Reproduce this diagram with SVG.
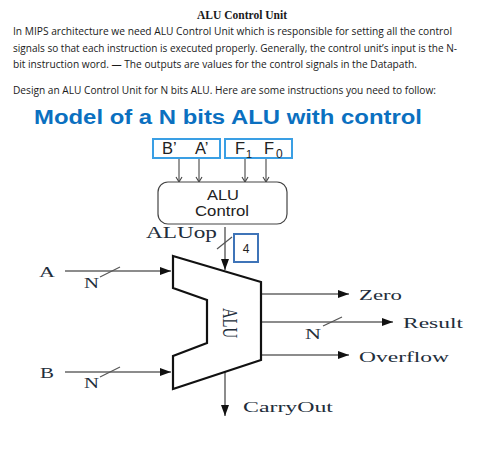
<svg xmlns="http://www.w3.org/2000/svg" width="500" height="473" viewBox="0 0 500 473">
<style>
.body{font-family:"Open Sans","Liberation Sans",sans-serif;font-size:11px;fill:#1a1a1a}
.ser{font-family:"Liberation Serif",serif;fill:#222d3a}
.san{font-family:"Liberation Sans",sans-serif;fill:#222}
.wire{stroke:#666;stroke-width:1.5;fill:none}
.sm{stroke:#555;stroke-width:1.2;fill:none}
.blk{stroke:#111;stroke-width:2.2;fill:#fff;stroke-linejoin:miter}
.sel{fill:#fff;stroke:#3a9fe4;stroke-width:2}
</style>
<defs>
<marker id="big" markerUnits="userSpaceOnUse" markerWidth="11" markerHeight="8" refX="11" refY="4" orient="auto"><path d="M0 0L11 4L0 8Z" fill="#111"/></marker>
<marker id="open" markerUnits="userSpaceOnUse" markerWidth="8" markerHeight="8" refX="6.5" refY="4" orient="auto"><path d="M1.5 1L6.5 4L1.5 7" fill="none" stroke="#444" stroke-width="1.1"/></marker>
</defs>
<rect width="500" height="473" fill="#fff"/>
<text x="197" y="19" textLength="90" lengthAdjust="spacingAndGlyphs" style="font-family:'Liberation Serif',serif;font-weight:bold;font-size:11.5px;fill:#1a1a1a">ALU Control Unit</text>
<text class="body" x="13" y="35" textLength="439" lengthAdjust="spacingAndGlyphs">In MIPS architecture we need ALU Control Unit which is responsible for setting all the control</text>
<text class="body" x="13" y="52" textLength="444" lengthAdjust="spacingAndGlyphs">signals so that each instruction is executed properly. Generally, the control unit’s input is the N-</text>
<text class="body" x="13" y="68" textLength="404" lengthAdjust="spacingAndGlyphs">bit instruction word. — The outputs are values for the control signals in the Datapath.</text>
<text class="body" x="13" y="94" textLength="423" lengthAdjust="spacingAndGlyphs">Design an ALU Control Unit for N bits ALU. Here are some instructions you need to follow:</text>
<text x="34" y="124" textLength="388" lengthAdjust="spacingAndGlyphs" style="font-family:'Liberation Sans',sans-serif;font-weight:bold;font-size:20px;fill:#0b70c0">Model of a N bits ALU with control</text>

<g id="connectors">
<path class="sm" marker-end="url(#open)" d="M179 158V182"/>
<path class="sm" marker-end="url(#open)" d="M199 158V182"/>
<path class="sm" marker-end="url(#open)" d="M245 158V182"/>
<path class="sm" marker-end="url(#open)" d="M266 158V182"/>
<path class="wire" marker-end="url(#big)" d="M225 227V270"/>
<path class="sm" d="M217 249L232 237"/>
<path class="wire" marker-end="url(#big)" d="M65 271H171"/>
<path class="sm" d="M100 277L120 267"/>
<path class="wire" marker-end="url(#big)" d="M65 372H171"/>
<path class="sm" d="M100 377L120 367"/>
<path class="wire" marker-end="url(#big)" d="M225 372V416"/>
<path class="wire" marker-end="url(#big)" d="M261 294H349"/>
<path class="wire" marker-end="url(#big)" d="M261 322H393"/>
<path class="sm" d="M323 326L342 317"/>
<path class="wire" marker-end="url(#big)" d="M261 355H349"/>
</g>

<g id="inputs-ba"><rect class="sel" x="153" y="139" width="67" height="19"/>
<text class="san" x="162" y="154" font-size="16.5">B’</text><text class="san" x="195" y="154" font-size="16.5">A’</text></g>
<g id="inputs-f"><rect class="sel" x="225" y="139" width="67" height="19"/>
<text class="san" x="235" y="154" font-size="16.5">F</text><text class="san" x="246" y="158" font-size="11">1</text>
<text class="san" x="264" y="154" font-size="16.5">F</text><text class="san" x="276" y="158" font-size="12">0</text></g>
<g id="alu-control"><rect x="158" y="182" width="129" height="42" rx="10" fill="#fff" stroke="#444" stroke-width="1.2"/>
<text class="san" x="207" y="200" textLength="32" lengthAdjust="spacingAndGlyphs" font-size="14">ALU</text>
<text class="san" x="195" y="216" textLength="54" lengthAdjust="spacingAndGlyphs" font-size="14">Control</text></g>
<g id="aluop"><text class="ser" x="146" y="238" textLength="71" lengthAdjust="spacingAndGlyphs" font-size="17">ALUop</text></g>
<g id="width-4"><rect x="234" y="234" width="24" height="28" fill="#fff" stroke="#3f74b8" stroke-width="2"/>
<text class="san" x="246" y="253" font-size="12" text-anchor="middle">4</text></g>
<g id="alu"><path class="blk" d="M173 256L261 282V360L173 389V356L207 343V300L173 288Z"/>
<text class="ser" transform="translate(223 308) rotate(90)" textLength="30" lengthAdjust="spacingAndGlyphs" font-size="21">ALU</text></g>
<g id="label-a"><text class="ser" x="39" y="277" textLength="16" lengthAdjust="spacingAndGlyphs" font-size="15">A</text><text class="ser" x="84" y="288" textLength="15" lengthAdjust="spacingAndGlyphs" font-size="14">N</text></g>
<g id="label-b"><text class="ser" x="40" y="378" textLength="14" lengthAdjust="spacingAndGlyphs" font-size="15">B</text><text class="ser" x="84" y="388" textLength="15" lengthAdjust="spacingAndGlyphs" font-size="14">N</text></g>
<g id="label-zero"><text class="ser" x="359" y="300" textLength="43" lengthAdjust="spacingAndGlyphs" font-size="15">Zero</text></g>
<g id="label-result"><text class="ser" x="403" y="328" textLength="60" lengthAdjust="spacingAndGlyphs" font-size="15">Result</text><text class="ser" x="305" y="339" textLength="16" lengthAdjust="spacingAndGlyphs" font-size="14">N</text></g>
<g id="label-overflow"><text class="ser" x="359" y="362" textLength="90" lengthAdjust="spacingAndGlyphs" font-size="15">Overflow</text></g>
<g id="label-carryout"><text class="ser" x="243" y="412" textLength="90" lengthAdjust="spacingAndGlyphs" font-size="15">CarryOut</text></g>
</svg>
